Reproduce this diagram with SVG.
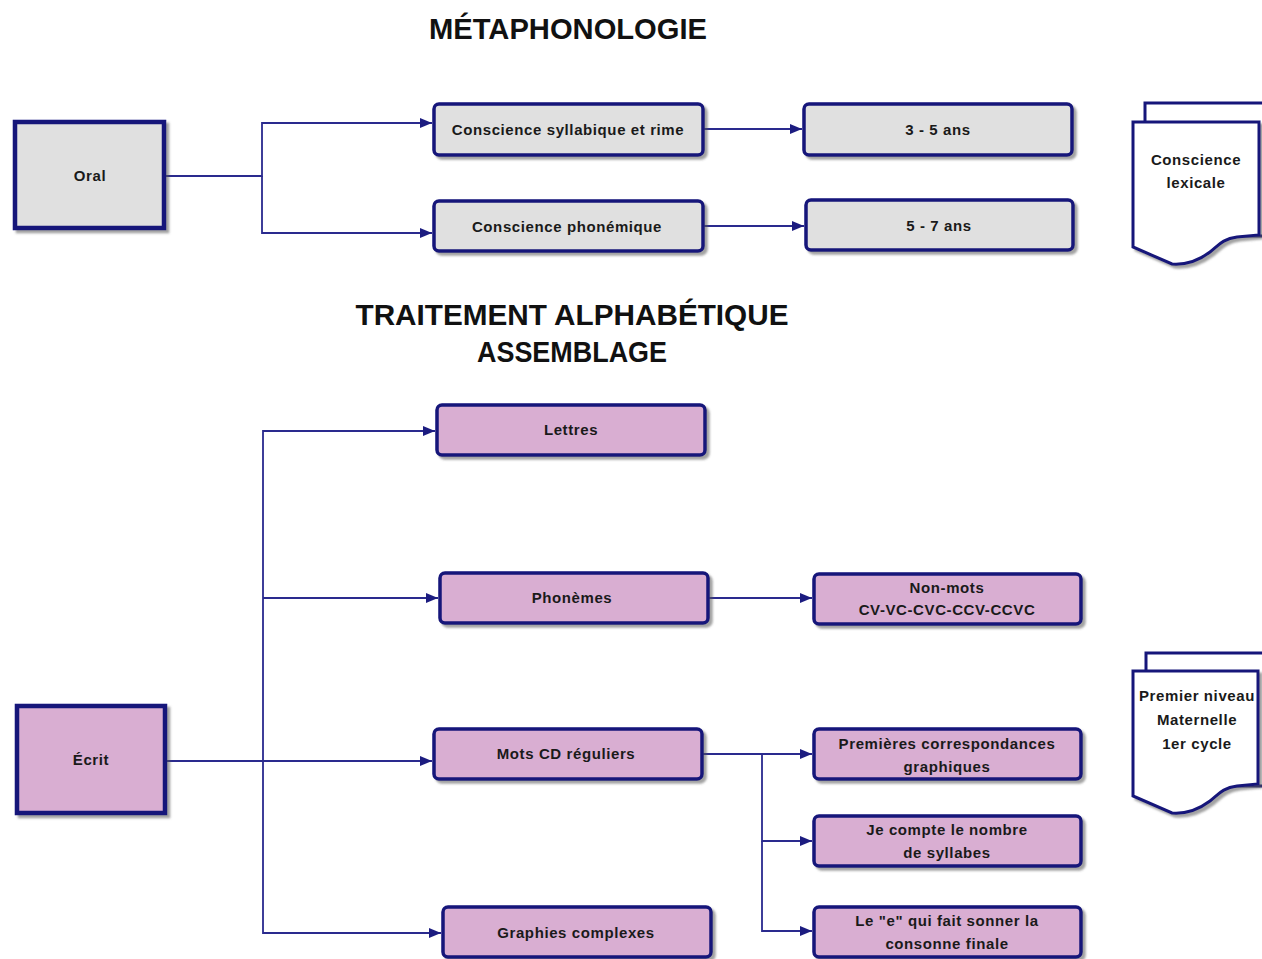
<svg xmlns="http://www.w3.org/2000/svg" width="1262" height="959" viewBox="0 0 1262 959">
<defs>
<filter id="sh" x="-10%" y="-10%" width="130%" height="140%">
<feDropShadow dx="3" dy="3" stdDeviation="1.2" flood-color="#555" flood-opacity="0.55"/>
</filter>
<marker id="arr" markerWidth="12" markerHeight="10" refX="12" refY="5" orient="auto" markerUnits="userSpaceOnUse">
<path d="M0,0 L12,5 L0,10 Z" fill="#1c1c80"/>
</marker>
</defs>
<style>
.title{font-family:"Liberation Sans",Arial,sans-serif;font-weight:bold;font-size:30px;fill:#111;text-anchor:middle}
.t{font-family:"Liberation Sans",Arial,sans-serif;font-weight:bold;font-size:15px;letter-spacing:0.6px;fill:#1a1a1a;text-anchor:middle}
.big{stroke:#16167a;stroke-width:4.5}
.box{stroke:#16167a;stroke-width:3.5}
.gray{fill:#e0e0e0}
.pink{fill:#d9aed2}
.doc{fill:#fff;stroke:#16167a;stroke-width:3}
.c{fill:none;stroke:#2a2a8e;stroke-width:1.8}
</style>
<rect width="1262" height="959" fill="#fff"/>

<text class="title" x="568" y="39" textLength="278" lengthAdjust="spacingAndGlyphs">MÉTAPHONOLOGIE</text>
<text class="title" x="572" y="325" textLength="433" lengthAdjust="spacingAndGlyphs">TRAITEMENT ALPHABÉTIQUE</text>
<text class="title" x="572" y="362" textLength="190" lengthAdjust="spacingAndGlyphs">ASSEMBLAGE</text>

<g id="connectors">
<path class="c" d="M166,176 H262 V123 H432" marker-end="url(#arr)"/>
<path class="c" d="M262,176 V233 H432" marker-end="url(#arr)"/>
<path class="c" d="M703,129 H802" marker-end="url(#arr)"/>
<path class="c" d="M703,226 H804" marker-end="url(#arr)"/>
<path class="c" d="M167,761 H432" marker-end="url(#arr)"/>
<path class="c" d="M263,761 V431 H435" marker-end="url(#arr)"/>
<path class="c" d="M263,598 H438" marker-end="url(#arr)"/>
<path class="c" d="M263,761 V933 H441" marker-end="url(#arr)"/>
<path class="c" d="M709,598 H812" marker-end="url(#arr)"/>
<path class="c" d="M703,754 H812" marker-end="url(#arr)"/>
<path class="c" d="M762,754 V841 H812" marker-end="url(#arr)"/>
<path class="c" d="M762,841 V931 H812" marker-end="url(#arr)"/>
</g>

<g id="oral"><rect class="big gray" x="15" y="122" width="149" height="106" filter="url(#sh)"/><text class="t" x="90" y="181">Oral</text></g>
<g id="syllabique"><rect class="box gray" x="434" y="104" width="269" height="51" rx="5" filter="url(#sh)"/><text class="t" x="568" y="135">Conscience syllabique et rime</text></g>
<g id="phonemique"><rect class="box gray" x="434" y="201" width="269" height="50" rx="5" filter="url(#sh)"/><text class="t" x="567" y="232">Conscience phonémique</text></g>
<g id="ans35"><rect class="box gray" x="804" y="104" width="268" height="51" rx="5" filter="url(#sh)"/><text class="t" x="938" y="135">3 - 5 ans</text></g>
<g id="ans57"><rect class="box gray" x="806" y="200" width="267" height="50" rx="5" filter="url(#sh)"/><text class="t" x="939" y="231">5 - 7 ans</text></g>

<g id="lexicale">
<rect class="doc" x="1145" y="103" width="130" height="133"/>
<path class="doc" d="M1133,122 H1259 V235 L1237,237 C1222,239 1218,246 1210,252 C1198,261 1185,265 1172,264 L1133,247 Z" filter="url(#sh)"/>
<text class="t" x="1196" y="165">Conscience</text><text class="t" x="1196" y="188">lexicale</text>
</g>

<g id="ecrit"><rect class="big pink" x="17" y="706" width="148" height="107" filter="url(#sh)"/><text class="t" x="91" y="765">Écrit</text></g>
<g id="lettres"><rect class="box pink" x="437" y="405" width="268" height="50" rx="5" filter="url(#sh)"/><text class="t" x="571" y="435">Lettres</text></g>
<g id="phonemes"><rect class="box pink" x="440" y="573" width="268" height="50" rx="5" filter="url(#sh)"/><text class="t" x="572" y="603">Phonèmes</text></g>
<g id="motscd"><rect class="box pink" x="434" y="729" width="268" height="50" rx="5" filter="url(#sh)"/><text class="t" x="566" y="759">Mots CD réguliers</text></g>
<g id="graphies"><rect class="box pink" x="443" y="907" width="268" height="50" rx="5" filter="url(#sh)"/><text class="t" x="576" y="938">Graphies complexes</text></g>
<g id="nonmots"><rect class="box pink" x="814" y="574" width="267" height="50" rx="5" filter="url(#sh)"/><text class="t" x="947" y="593">Non-mots</text><text class="t" x="947" y="615">CV-VC-CVC-CCV-CCVC</text></g>
<g id="premieres"><rect class="box pink" x="814" y="729" width="267" height="50" rx="5" filter="url(#sh)"/><text class="t" x="947" y="749">Premières correspondances</text><text class="t" x="947" y="772">graphiques</text></g>
<g id="syllabes"><rect class="box pink" x="814" y="816" width="267" height="50" rx="5" filter="url(#sh)"/><text class="t" x="947" y="835">Je compte le nombre</text><text class="t" x="947" y="858">de syllabes</text></g>
<g id="consonne"><rect class="box pink" x="814" y="907" width="267" height="50" rx="5" filter="url(#sh)"/><text class="t" x="947" y="926">Le "e" qui fait sonner la</text><text class="t" x="947" y="949">consonne finale</text></g>

<g id="premierniveau">
<rect class="doc" x="1146" y="653" width="130" height="133"/>
<path class="doc" d="M1133,671 H1258 V784 L1237,786 C1222,788 1218,795 1210,801 C1198,810 1185,814 1172,813 L1133,796 Z" filter="url(#sh)"/>
<text class="t" x="1197" y="701">Premier niveau</text><text class="t" x="1197" y="725">Maternelle</text><text class="t" x="1197" y="749">1er cycle</text>
</g>
</svg>
